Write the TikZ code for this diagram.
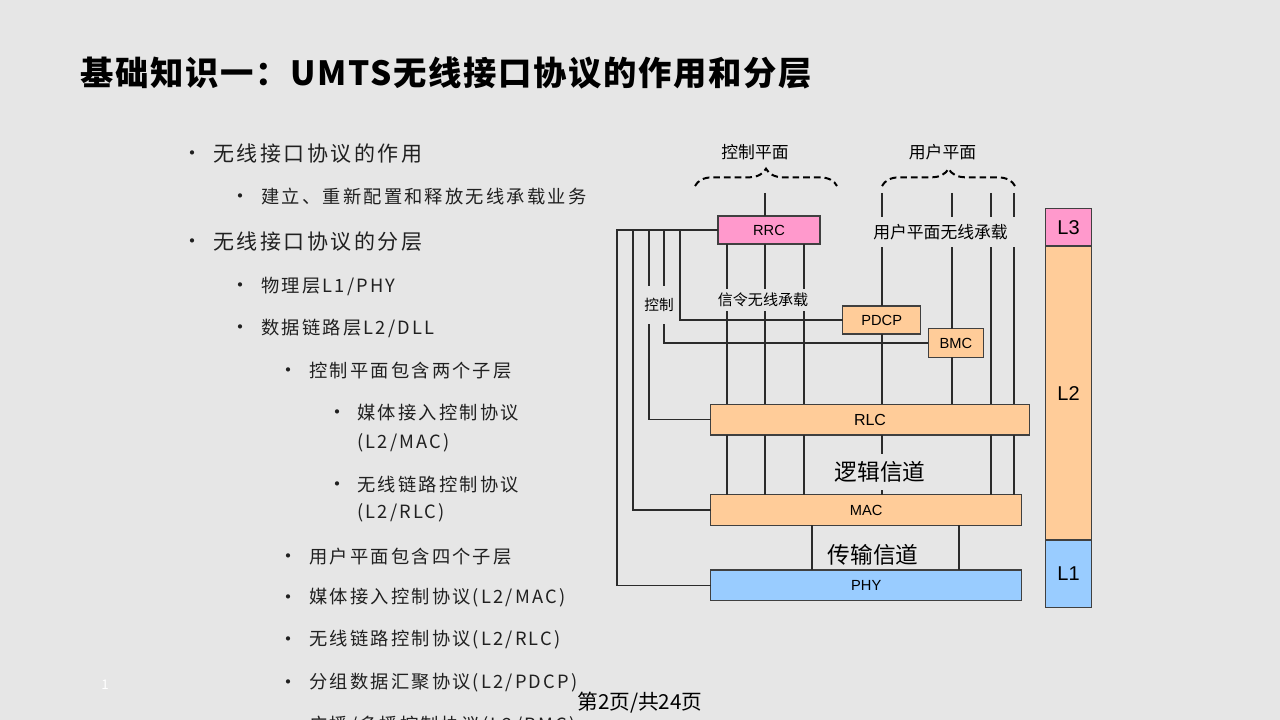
\documentclass[tikz,border=0pt]{standalone}
\usepackage{fontspec}
\setmainfont{Noto Sans CJK SC}
\newfontfamily\arialfont{Liberation Sans}
\newfontfamily\cjkfont{Noto Sans CJK SC}
\newfontfamily\bodyfont[LetterSpace=12]{Noto Sans CJK SC}
\newfontfamily\headfont[LetterSpace=5]{Noto Sans CJK SC}
\usetikzlibrary{positioning, decorations.pathreplacing}

\definecolor{slidebg}{HTML}{E6E6E6}
\definecolor{bodygray}{HTML}{202020}
\definecolor{boxline}{HTML}{404040}
\definecolor{wirecol}{HTML}{2B2B2B}
\definecolor{l3fill}{HTML}{FF99CC}
\definecolor{l2fill}{HTML}{FFCC99}
\definecolor{l1fill}{HTML}{99CCFF}

\newcommand{\titlesize}{\fontsize{25}{29}\selectfont\headfont\bfseries}
\newcommand{\bigitem}{\fontsize{15.75}{19}\selectfont\bodyfont}
\newcommand{\smallitem}{\fontsize{13.7}{16}\selectfont\bodyfont}

\tikzset{
  bul/.style={inner sep=0, text=bodygray, yshift=-1.5pt, font=\fontsize{15}{17}\selectfont\cjkfont},
  lvone/.style={anchor=west, inner sep=0, text=bodygray, font=\bigitem},
  lvtwo/.style={anchor=west, inner sep=0, text=bodygray, font=\smallitem},
  layerbox/.style={draw=boxline, line width=0.9pt, inner sep=0, outer sep=0,
    font=\fontsize{11}{13}\selectfont\arialfont},
  sidebox/.style={layerbox, minimum width=34.8pt, font=\fontsize{15}{18}\selectfont\arialfont},
  wire/.style={draw=wirecol, line width=1pt},
  bracket/.style={decorate, decoration={brace, amplitude=13pt}, line width=1.5pt,
    dash pattern=on 5pt off 3pt},
  tag/.style={inner sep=0, fill=slidebg, font=\fontsize{11}{13}\selectfont\cjkfont},
  chantag/.style={inner sep=0, fill=slidebg, font=\fontsize{17}{20}\selectfont\cjkfont},
}

\begin{document}
\begin{tikzpicture}[x=0.75pt, y=-0.75pt]
  % slide
  \fill[slidebg] (0,0) rectangle (1280,720);
  \useasboundingbox (0,0) rectangle (1280,720);

  \node[anchor=west, inner sep=0] (title) at (80,73)
    {\titlesize 基础知识一：UMTS无线接口协议的作用和分层};

  % bullet list
  \node[bul] (d1) at (192,154) {•};
  \node[lvone] (i1) at (213,154) {无线接口协议的作用};
  \node[bul] (d2) at (240,197) {•};
  \node[lvtwo] (i2) at (261,197) {建立、重新配置和释放无线承载业务};
  \node[bul] (d3) at (192,242) {•};
  \node[lvone] (i3) at (213,242) {无线接口协议的分层};
  \node[bul] (d4) at (240,286) {•};
  \node[lvtwo] (i4) at (261,286) {物理层L1/PHY};
  \node[bul] (d5) at (240,328) {•};
  \node[lvtwo] (i5) at (261,328) {数据链路层L2/DLL};
  \node[bul] (d6) at (288,371) {•};
  \node[lvtwo] (i6) at (309,371) {控制平面包含两个子层};
  \node[bul] (d7) at (337,413) {•};
  \node[lvtwo] (i7) at (357,413) {媒体接入控制协议};
  \node[lvtwo] (i7b) at (357,443) {(L2/MAC)};
  \node[bul] (d8) at (337,485) {•};
  \node[lvtwo] (i8) at (357,485) {无线链路控制协议};
  \node[lvtwo] (i8b) at (357,513) {(L2/RLC)};
  \node[bul] (d9) at (288,557) {•};
  \node[lvtwo] (i9) at (309,557) {用户平面包含四个子层};
  \node[bul] (d10) at (288,598) {•};
  \node[lvtwo] (i10) at (309,598) {媒体接入控制协议(L2/MAC)};
  \node[bul] (d11) at (288,640) {•};
  \node[lvtwo] (i11) at (309,640) {无线链路控制协议(L2/RLC)};
  \node[bul] (d12) at (288,683) {•};
  \node[lvtwo] (i12) at (309,683) {分组数据汇聚协议(L2/PDCP)};
  \node[bul] (d13) at (288,726) {•};
  \node[lvtwo] (i13) at (309,726) {广播/多播控制协议(L2/BMC)};

  % protocol boxes
  \node[layerbox, fill=l3fill, minimum width=76.5pt, minimum height=21pt] (rrc) at (769,230) {RRC};
  \node[layerbox, fill=l2fill, minimum width=58.5pt, minimum height=21pt] (pdcp) at (881.7,320) {PDCP};
  \node[layerbox, fill=l2fill, minimum width=41.3pt, minimum height=21.5pt] (bmc) at (955.8,343) {BMC};
  \node[layerbox, fill=l2fill, minimum width=239pt, minimum height=23pt,
    font=\fontsize{12}{14}\selectfont\arialfont] (rlc) at (870,419.7) {RLC};
  \node[layerbox, fill=l2fill, minimum width=233.3pt, minimum height=23pt] (mac) at (866.2,510) {MAC};
  \node[layerbox, fill=l1fill, minimum width=233.3pt, minimum height=23pt] (phy) at (866.2,585.3) {PHY};

  % layer column
  \node[sidebox, fill=l3fill, minimum height=28.3pt] (l3) at (1068.5,227.2) {L3};
  \node[sidebox, fill=l2fill, minimum height=220.5pt, below=0pt of l3] (l2) {L2};
  \node[sidebox, fill=l1fill, minimum height=50.5pt, below=0pt of l2] (l1) {L1};

  % bearer columns
  \coordinate (s1) at (727,193);
  \coordinate (s2) at (765,193);
  \coordinate (s3) at (804,193);
  \coordinate (u1) at (882,193);
  \coordinate (u2) at (952,193);
  \coordinate (u3) at (991,193);
  \coordinate (u4) at (1014,193);
  \coordinate (t1) at (812,540);
  \coordinate (t2) at (959,540);
  % control bus
  \coordinate (k1) at (617,230);
  \coordinate (k2) at (633,230);
  \coordinate (k3) at (649,230);
  \coordinate (k4) at (664,230);
  \coordinate (k5) at (680,230);

  \draw[wire] (rrc.west) -- (k1) |- (phy.west);
  \draw[wire] (k2) |- (mac.west);
  \draw[wire] (k3) |- (rlc.west);
  \draw[wire] (k4) |- (bmc.west);
  \draw[wire] (k5) |- (pdcp.west);

  \draw[wire] (s2) -- (s2 |- rrc.north);
  \foreach \c in {s1,s2,s3}
    \draw[wire] (\c |- rrc.south) -- (\c |- rlc.north) (\c |- rlc.south) -- (\c |- mac.north);
  \draw[wire] (u1) -- (u1 |- pdcp.north) (u1 |- pdcp.south) -- (u1 |- rlc.north)
    (u1 |- rlc.south) -- (u1 |- mac.north);
  \draw[wire] (u2) -- (u2 |- bmc.north) (u2 |- bmc.south) -- (u2 |- rlc.north);
  \foreach \c in {u3,u4}
    \draw[wire] (\c) -- (\c |- rlc.north) (\c |- rlc.south) -- (\c |- mac.north);
  \foreach \c in {t1,t2}
    \draw[wire] (\c |- mac.south) -- (\c |- phy.north);

  % labels over the wires
  \node[tag, minimum height=29pt, inner xsep=1pt] (ctl) at (659,305) {控制};
  \node[tag, font=\fontsize{11.3}{13}\selectfont\cjkfont, minimum height=16pt] (srb) at (763,300) {信令无线承载};
  \node[tag, font=\fontsize{12.6}{15}\selectfont\cjkfont, minimum width=114pt, minimum height=23pt] (urb) at (940.5,232) {用户平面无线承载};
  \node[chantag, minimum height=27pt] (logch) at (880,472) {逻辑信道};
  \node[chantag] (trch) at (873,555) {传输信道};

  % planes
  \coordinate (cb1) at (695,186);
  \coordinate (cb2) at (837,186);
  \coordinate (ub1) at (882,186);
  \coordinate (ub2) at (1015,186);
  \draw[bracket] (cb1) -- (cb2);
  \draw[bracket] (ub1) -- (ub2);
  \node[tag, fill=none, font=\fontsize{12.6}{15}\selectfont\cjkfont] (cplane) at (755,152) {控制平面};
  \node[tag, fill=none, font=\fontsize{12.6}{15}\selectfont\cjkfont] (uplane) at (942.5,152) {用户平面};

  % footer
  \node[text=white, inner sep=0, font=\fontsize{10}{12}\selectfont\cjkfont] (num) at (105,685) {1};
  \node[inner sep=0, font=\fontsize{15.5}{18}\selectfont\cjkfont] (pager) at (640,703) {第2页/共24页};
\end{tikzpicture}
\end{document}
